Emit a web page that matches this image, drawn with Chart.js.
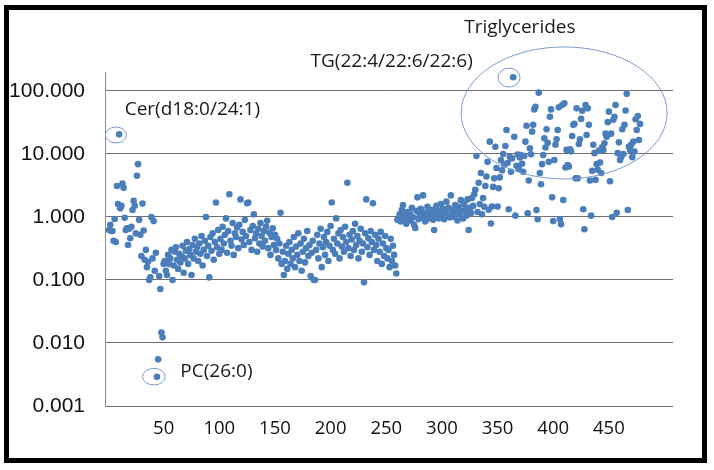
<!DOCTYPE html>
<html>
<head>
<meta charset="utf-8">
<script src="https://cdn.jsdelivr.net/npm/chart.js@4"></script>
<style>
  html, body { margin: 0; padding: 0; background: #ffffff; }
  #wrap { width: 714px; height: 470px; position: relative; }
</style>
</head>
<body>
<div id="wrap"><canvas id="c" width="714" height="470"></canvas></div>
<script>
// ---- Data ----
const xTicks = [50, 100, 150, 200, 250, 300, 350, 400, 450];
const yTicks = [0.001, 0.01, 0.1, 1, 10, 100];

// indices 1-50
const segment1 = [0.62, 0.75, 0.60, 0.60, 0.42, 0.93, 0.40, 3.1, 1.6, 20.5,
  1.37, 1.5, 3.4, 2.9, 0.97, 0.62, 0.66, 0.36, 0.65, 0.46,
  0.70, 1.29, 1.8, 1.51, 0.55, 4.5, 6.9, 0.90, 0.52, 0.24,
  1.63, 0.61, 0.21, 0.30, 0.16, 0.195, 0.10, 0.11, 1.0, 0.22,
  0.86, 0.14, 0.27, 0.0029, 0.0055, 0.116, 0.072, 0.0147, 0.0123, 0.18];

// indices 51-260
const segment2 = [0.20, 0.14, 0.12, 0.25, 0.18, 0.22, 0.30, 0.10, 0.17, 0.28,
  0.33, 0.21, 0.15, 0.26, 0.19, 0.24, 0.35, 0.13, 0.22, 0.29,
  0.40, 0.18, 0.31, 0.25, 0.12, 0.36, 0.22, 0.45, 0.28, 0.33,
  0.20, 0.38, 0.26, 0.50, 0.17, 0.30, 0.42, 1.00, 0.24, 0.35,
  0.11, 0.48, 0.29, 0.55, 0.21, 0.40, 1.70, 0.33, 0.62, 0.26,
  0.45, 0.30, 0.70, 0.38, 0.52, 0.95, 0.27, 0.60, 2.30, 0.42,
  0.35, 0.80, 0.25, 0.55, 0.48, 0.68, 0.32, 0.75, 1.90, 0.44,
  0.58, 0.36, 0.90, 0.50, 1.65, 1.70, 0.40, 0.62, 0.30, 0.72,
  1.10, 0.46, 0.55, 0.28, 0.65, 0.38, 0.80, 0.50, 0.34, 0.60,
  0.42, 0.70, 0.87, 0.32, 0.56, 0.25, 0.48, 0.66, 0.36, 0.52,
  0.30, 0.45, 0.22, 0.38, 1.17, 0.18, 0.28, 0.12, 0.20, 0.35,
  0.15, 0.26, 0.40, 0.18, 0.30, 0.22, 0.48, 0.16, 0.34, 0.25,
  0.55, 0.20, 0.38, 0.14, 0.28, 0.45, 0.19, 0.32, 0.60, 0.24,
  0.36, 0.116, 0.27, 0.42, 0.10, 0.10, 0.30, 0.52, 0.22, 0.38,
  0.65, 0.16, 0.33, 0.48, 0.25, 0.40, 0.58, 0.20, 0.35, 0.72,
  1.70, 0.30, 0.45, 0.26, 0.95, 0.38, 0.55, 0.22, 0.62, 0.34,
  0.48, 0.28, 0.70, 0.40, 3.50, 0.32, 0.52, 0.24, 0.44, 0.60,
  0.30, 0.78, 0.36, 0.50, 0.22, 0.42, 0.65, 0.28, 0.38, 0.092,
  0.55, 1.90, 0.33, 0.46, 0.25, 0.60, 0.40, 1.65, 0.30, 0.52,
  0.36, 0.20, 0.45, 0.28, 0.58, 0.18, 0.38, 0.24, 0.50, 0.32,
  0.22, 0.30, 0.16, 0.45, 0.20, 0.35, 0.25, 0.17, 0.127, 0.90];

// indices 261-330
const segment3 = [0.95, 1.10, 0.85, 1.30, 1.55, 0.90, 1.05, 0.78, 1.20, 0.95,
  1.15, 0.88, 1.40, 1.00, 0.75, 0.67, 1.25, 2.05, 0.92, 1.10,
  1.35, 0.98, 2.20, 1.18, 0.85, 1.05, 1.45, 0.95, 1.20, 1.00,
  1.30, 0.90, 0.62, 1.10, 1.50, 1.25, 0.95, 1.15, 1.60, 1.05,
  1.35, 0.92, 1.20, 1.75, 1.08, 1.40, 0.98, 2.20, 1.15, 1.30,
  1.00, 1.55, 1.22, 0.88, 1.45, 1.10, 1.85, 1.25, 0.95, 1.60,
  1.30, 1.05, 1.90, 0.62, 1.40, 1.15, 2.00, 1.50, 2.30, 2.70];

// indices 331-370
const segment4 = [9.3, 1.20, 3.5, 1.60, 5.0, 1.10, 2.0, 1.45, 3.1, 4.4,
  7.5, 1.3, 15.7, 0.79, 1.46, 3.0, 4.1, 13.0, 6.0, 1.46,
  2.85, 4.25, 8.0, 5.5, 10.0, 6.8, 13.4, 24.0, 7.2, 1.33,
  9.0, 5.2, 8.5, 165, 18.8, 1.05, 6.5, 9.8, 5.8, 8.8];

// indices 371-478
const segment5 = [9.6, 7.0, 5.2, 9.3, 15.7, 28, 1.14, 3.8, 12.3, 9.9,
  22.6, 29, 51, 56, 1.29, 0.92, 94, 5.0, 3.3, 6.9,
  9.6, 17.7, 12.7, 24.7, 15.1, 7.5, 39, 51, 2.05, 0.86,
  8.0, 14, 17.1, 24, 55, 0.93, 0.77, 60, 1.86, 64,
  6.1, 11.6, 6.7, 6.3, 11.9, 11, 19.3, 29, 30, 4.1,
  53, 4.1, 14.4, 17.1, 36, 48.5, 1.33, 0.64, 60, 20,
  53, 29, 3.8, 1.05, 5.4, 14, 10.3, 3.9, 6.9, 5.6,
  11.3, 7.3, 5.0, 12.8, 11.6, 14.8, 21, 18.8, 32, 47,
  3.7, 21, 1.0, 35, 39, 60, 1.17, 10.3, 15.3, 8.0,
  8.9, 24.7, 10, 29, 49, 90, 1.29, 13, 11.6, 14,
  8.9, 15.7, 10.9, 35.5, 24, 40, 16.7, 30];

// Labels and highlight marks, anchored in data coordinates
const labels = [
  { text: 'Triglycerides', x: 320, y: 1000 },
  { text: 'TG(22:4/22:6/22:6)', x: 182, y: 288 },
  { text: 'Cer(d18:0/24:1)', x: 15, y: 50 },
  { text: 'PC(26:0)', x: 65, y: 0.00347 }
];
const ellipses = [
  { x: 409.8, y: 44.8, rx: 103, ry: 66 },
  { x: 7.1, y: 20, rx: 10.5, ry: 8 },
  { x: 360.3, y: 163, rx: 11, ry: 9.5 },
  { x: 41.2, y: 0.00292, rx: 11.3, ry: 8.3 }
];

// ---- Build the point table ----
const allValues = [].concat(segment1, segment2, segment3, segment4, segment5);
const points = allValues.map((v, i) => ({ x: i + 1, y: v }));

const overlayPlugin = {
  id: 'overlay',
  afterDatasetsDraw(chart) {
    const ctx = chart.ctx;
    const xs = chart.scales.x, ys = chart.scales.y;
    ctx.save();
    ctx.strokeStyle = '#7a9bcc';
    ctx.lineWidth = 1;
    ellipses.forEach(e => {
      ctx.beginPath();
      ctx.ellipse(xs.getPixelForValue(e.x), ys.getPixelForValue(e.y), e.rx, e.ry, 0, 0, Math.PI * 2);
      ctx.stroke();
    });
    ctx.fillStyle = '#1a1a1a';
    ctx.font = '19px "Open Sans"';
    ctx.textAlign = 'left';
    ctx.textBaseline = 'middle';
    labels.forEach(l => {
      ctx.fillText(l.text, xs.getPixelForValue(l.x), ys.getPixelForValue(l.y));
    });
    // outer frame
    ctx.strokeStyle = '#000000';
    ctx.lineWidth = 5;
    ctx.strokeRect(6.5, 7.5, 698, 453);
    ctx.restore();
  }
};

new Chart(document.getElementById('c'), {
  type: 'scatter',
  data: {
    datasets: [{
      data: points,
      backgroundColor: '#4a7ebb',
      borderWidth: 0,
      pointRadius: 3.3,
      pointHoverRadius: 3.3
    }]
  },
  options: {
    responsive: false,
    animation: false,
    events: [],
    layout: { padding: { left: 0, top: 72, right: 41, bottom: 0 } },
    plugins: { legend: { display: false }, tooltip: { enabled: false } },
    scales: {
      x: {
        type: 'linear',
        min: -2.7,
        max: 507.6,
        grid: { display: false, drawTicks: false },
        border: { display: false },
        afterBuildTicks: s => { s.ticks = xTicks.map(v => ({ value: v })); },
        afterFit: s => { s.height = 64; },
        ticks: {
          color: '#111111',
          font: { family: '"Open Sans"', size: 18.5 },
          padding: 12,
          maxRotation: 0,
          autoSkip: false,
          callback: v => String(v)
        }
      },
      y: {
        type: 'logarithmic',
        min: 0.001,
        max: 200,
        grid: { color: '#6e6e6e', lineWidth: 1, drawTicks: false },
        border: { display: true, color: '#8c8c8c', width: 1 },
        afterBuildTicks: s => { s.ticks = yTicks.map(v => ({ value: v })); },
        afterFit: s => { s.width = 105; },
        ticks: {
          color: '#111111',
          font: { family: '"Liberation Sans"', size: 21 },
          padding: 20,
          autoSkip: false,
          callback: v => Number(v).toFixed(3)
        }
      }
    }
  },
  plugins: [overlayPlugin]
});
</script>
</body>
</html>
